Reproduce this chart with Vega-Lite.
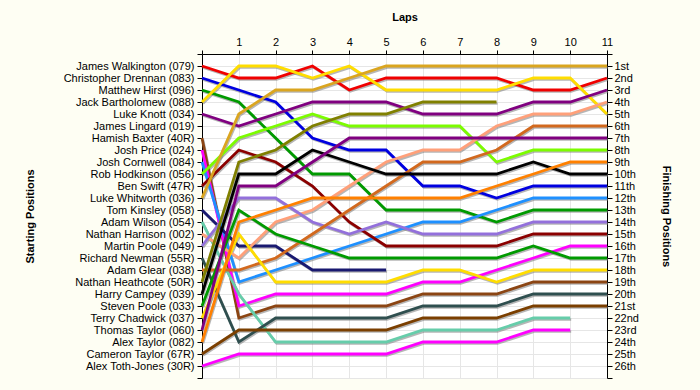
{
"$schema": "https://vega.github.io/schema/vega-lite/v6.json",
"width": 405, "height": 324,
"autosize": {"type": "none"},
"padding": {"left": 202, "top": 54, "right": 93, "bottom": 12},
"background": "#FEFEF3",
"config": {"view": {"fill": "#FFFFFF", "stroke": null}, "font": "Liberation Sans",
  "axis": {"labelFont": "Liberation Sans", "titleFont": "Liberation Sans", "labelFontSize": 11, "titleFontSize": 11, "titleFontWeight": "bold", "labelColor": "#000000", "titleColor": "#000000", "domainColor": "#000000", "tickColor": "#000000", "gridColor": "#E6E6E6"}},
"data": {"values": [
{"d":"079","l":0,"p":1},{"d":"079","l":1,"p":2},{"d":"079","l":2,"p":2},{"d":"079","l":3,"p":1},{"d":"079","l":4,"p":3},{"d":"079","l":5,"p":2},{"d":"079","l":6,"p":2},{"d":"079","l":7,"p":2},{"d":"079","l":8,"p":2},{"d":"079","l":9,"p":3},{"d":"079","l":10,"p":3},{"d":"079","l":11,"p":2},
{"d":"083","l":0,"p":2},{"d":"083","l":1,"p":3},{"d":"083","l":2,"p":4},{"d":"083","l":3,"p":7},{"d":"083","l":4,"p":8},{"d":"083","l":5,"p":8},{"d":"083","l":6,"p":11},{"d":"083","l":7,"p":11},{"d":"083","l":8,"p":12},{"d":"083","l":9,"p":11},{"d":"083","l":10,"p":11},{"d":"083","l":11,"p":11},
{"d":"096","l":0,"p":3},{"d":"096","l":1,"p":4},{"d":"096","l":2,"p":7},{"d":"096","l":3,"p":10},{"d":"096","l":4,"p":10},{"d":"096","l":5,"p":13},{"d":"096","l":6,"p":13},{"d":"096","l":7,"p":13},{"d":"096","l":8,"p":14},{"d":"096","l":9,"p":13},{"d":"096","l":10,"p":13},{"d":"096","l":11,"p":13},
{"d":"088","l":0,"p":4},{"d":"088","l":1,"p":1},{"d":"088","l":2,"p":1},{"d":"088","l":3,"p":2},{"d":"088","l":4,"p":1},{"d":"088","l":5,"p":3},{"d":"088","l":6,"p":3},{"d":"088","l":7,"p":3},{"d":"088","l":8,"p":3},{"d":"088","l":9,"p":2},{"d":"088","l":10,"p":2},{"d":"088","l":11,"p":5},
{"d":"034","l":0,"p":5},{"d":"034","l":1,"p":6},{"d":"034","l":2,"p":5},{"d":"034","l":3,"p":4},{"d":"034","l":4,"p":4},{"d":"034","l":5,"p":4},{"d":"034","l":6,"p":5},{"d":"034","l":7,"p":5},{"d":"034","l":8,"p":5},{"d":"034","l":9,"p":4},{"d":"034","l":10,"p":4},{"d":"034","l":11,"p":3},
{"d":"40R","l":0,"p":7},{"d":"40R","l":1,"p":22},{"d":"40R","l":2,"p":21},{"d":"40R","l":3,"p":21},{"d":"40R","l":4,"p":21},{"d":"40R","l":5,"p":21},{"d":"40R","l":6,"p":20},{"d":"40R","l":7,"p":20},{"d":"40R","l":8,"p":20},{"d":"40R","l":9,"p":19},{"d":"40R","l":10,"p":19},{"d":"40R","l":11,"p":19},
{"d":"024","l":0,"p":8},{"d":"024","l":1,"p":21},{"d":"024","l":2,"p":20},{"d":"024","l":3,"p":20},{"d":"024","l":4,"p":20},{"d":"024","l":5,"p":20},{"d":"024","l":6,"p":19},{"d":"024","l":7,"p":19},{"d":"024","l":8,"p":18},{"d":"024","l":9,"p":17},{"d":"024","l":10,"p":16},{"d":"024","l":11,"p":16},
{"d":"084","l":0,"p":9},{"d":"084","l":1,"p":19},{"d":"084","l":2,"p":18},{"d":"084","l":3,"p":17},{"d":"084","l":4,"p":16},{"d":"084","l":5,"p":15},{"d":"084","l":6,"p":14},{"d":"084","l":7,"p":14},{"d":"084","l":8,"p":13},{"d":"084","l":9,"p":12},{"d":"084","l":10,"p":12},{"d":"084","l":11,"p":12},
{"d":"056","l":0,"p":10},{"d":"056","l":1,"p":7},{"d":"056","l":2,"p":6},{"d":"056","l":3,"p":5},{"d":"056","l":4,"p":6},{"d":"056","l":5,"p":6},{"d":"056","l":6,"p":6},{"d":"056","l":7,"p":6},{"d":"056","l":8,"p":9},{"d":"056","l":9,"p":8},{"d":"056","l":10,"p":8},{"d":"056","l":11,"p":8},
{"d":"47R","l":0,"p":11},{"d":"47R","l":1,"p":8},{"d":"47R","l":2,"p":9},{"d":"47R","l":3,"p":11},{"d":"47R","l":4,"p":14},{"d":"47R","l":5,"p":16},{"d":"47R","l":6,"p":16},{"d":"47R","l":7,"p":16},{"d":"47R","l":8,"p":16},{"d":"47R","l":9,"p":15},{"d":"47R","l":10,"p":15},{"d":"47R","l":11,"p":15},
{"d":"036","l":0,"p":12},{"d":"036","l":1,"p":5},{"d":"036","l":2,"p":3},{"d":"036","l":3,"p":3},{"d":"036","l":4,"p":2},{"d":"036","l":5,"p":1},{"d":"036","l":6,"p":1},{"d":"036","l":7,"p":1},{"d":"036","l":8,"p":1},{"d":"036","l":9,"p":1},{"d":"036","l":10,"p":1},{"d":"036","l":11,"p":1},
{"d":"058","l":0,"p":13},{"d":"058","l":1,"p":16},{"d":"058","l":2,"p":16},{"d":"058","l":3,"p":18},{"d":"058","l":4,"p":18},{"d":"058","l":5,"p":18},
{"d":"054","l":0,"p":14},{"d":"054","l":1,"p":20},{"d":"054","l":2,"p":24},{"d":"054","l":3,"p":24},{"d":"054","l":4,"p":24},{"d":"054","l":5,"p":24},{"d":"054","l":6,"p":23},{"d":"054","l":7,"p":23},{"d":"054","l":8,"p":23},{"d":"054","l":9,"p":22},{"d":"054","l":10,"p":22},
{"d":"002","l":0,"p":15},{"d":"002","l":1,"p":17},{"d":"002","l":2,"p":14},{"d":"002","l":3,"p":13},{"d":"002","l":4,"p":11},{"d":"002","l":5,"p":9},{"d":"002","l":6,"p":8},{"d":"002","l":7,"p":8},{"d":"002","l":8,"p":6},{"d":"002","l":9,"p":5},{"d":"002","l":10,"p":5},{"d":"002","l":11,"p":4},
{"d":"049","l":0,"p":16},{"d":"049","l":1,"p":12},{"d":"049","l":2,"p":12},{"d":"049","l":3,"p":14},{"d":"049","l":4,"p":15},{"d":"049","l":5,"p":14},{"d":"049","l":6,"p":15},{"d":"049","l":7,"p":15},{"d":"049","l":8,"p":15},{"d":"049","l":9,"p":14},{"d":"049","l":10,"p":14},{"d":"049","l":11,"p":14},
{"d":"55R","l":0,"p":17},{"d":"55R","l":1,"p":24},{"d":"55R","l":2,"p":22},{"d":"55R","l":3,"p":22},{"d":"55R","l":4,"p":22},{"d":"55R","l":5,"p":22},{"d":"55R","l":6,"p":21},{"d":"55R","l":7,"p":21},{"d":"55R","l":8,"p":21},{"d":"55R","l":9,"p":20},{"d":"55R","l":10,"p":20},{"d":"55R","l":11,"p":20},
{"d":"038","l":0,"p":18},{"d":"038","l":1,"p":18},{"d":"038","l":2,"p":17},{"d":"038","l":3,"p":15},{"d":"038","l":4,"p":13},{"d":"038","l":5,"p":11},{"d":"038","l":6,"p":9},{"d":"038","l":7,"p":9},{"d":"038","l":8,"p":8},{"d":"038","l":9,"p":6},{"d":"038","l":10,"p":6},{"d":"038","l":11,"p":6},
{"d":"50R","l":0,"p":19},{"d":"50R","l":1,"p":9},{"d":"50R","l":2,"p":8},{"d":"50R","l":3,"p":6},{"d":"50R","l":4,"p":5},{"d":"50R","l":5,"p":5},{"d":"50R","l":6,"p":4},{"d":"50R","l":7,"p":4},{"d":"50R","l":8,"p":4},
{"d":"039","l":0,"p":20},{"d":"039","l":1,"p":10},{"d":"039","l":2,"p":10},{"d":"039","l":3,"p":8},{"d":"039","l":4,"p":9},{"d":"039","l":5,"p":10},{"d":"039","l":6,"p":10},{"d":"039","l":7,"p":10},{"d":"039","l":8,"p":10},{"d":"039","l":9,"p":9},{"d":"039","l":10,"p":10},{"d":"039","l":11,"p":10},
{"d":"033","l":0,"p":21},{"d":"033","l":1,"p":13},{"d":"033","l":2,"p":15},{"d":"033","l":3,"p":16},{"d":"033","l":4,"p":17},{"d":"033","l":5,"p":17},{"d":"033","l":6,"p":17},{"d":"033","l":7,"p":17},{"d":"033","l":8,"p":17},{"d":"033","l":9,"p":16},{"d":"033","l":10,"p":17},{"d":"033","l":11,"p":17},
{"d":"037","l":0,"p":22},{"d":"037","l":1,"p":15},{"d":"037","l":2,"p":19},{"d":"037","l":3,"p":19},{"d":"037","l":4,"p":19},{"d":"037","l":5,"p":19},{"d":"037","l":6,"p":18},{"d":"037","l":7,"p":18},{"d":"037","l":8,"p":19},{"d":"037","l":9,"p":18},{"d":"037","l":10,"p":18},{"d":"037","l":11,"p":18},
{"d":"060","l":0,"p":23},{"d":"060","l":1,"p":11},{"d":"060","l":2,"p":11},{"d":"060","l":3,"p":9},{"d":"060","l":4,"p":7},{"d":"060","l":5,"p":7},{"d":"060","l":6,"p":7},{"d":"060","l":7,"p":7},{"d":"060","l":8,"p":7},{"d":"060","l":9,"p":7},{"d":"060","l":10,"p":7},{"d":"060","l":11,"p":7},
{"d":"082","l":0,"p":24},{"d":"082","l":1,"p":14},{"d":"082","l":2,"p":13},{"d":"082","l":3,"p":12},{"d":"082","l":4,"p":12},{"d":"082","l":5,"p":12},{"d":"082","l":6,"p":12},{"d":"082","l":7,"p":12},{"d":"082","l":8,"p":11},{"d":"082","l":9,"p":10},{"d":"082","l":10,"p":9},{"d":"082","l":11,"p":9},
{"d":"67R","l":0,"p":25},{"d":"67R","l":1,"p":23},{"d":"67R","l":2,"p":23},{"d":"67R","l":3,"p":23},{"d":"67R","l":4,"p":23},{"d":"67R","l":5,"p":23},{"d":"67R","l":6,"p":22},{"d":"67R","l":7,"p":22},{"d":"67R","l":8,"p":22},{"d":"67R","l":9,"p":21},{"d":"67R","l":10,"p":21},{"d":"67R","l":11,"p":21},
{"d":"30R","l":0,"p":26},{"d":"30R","l":1,"p":25},{"d":"30R","l":2,"p":25},{"d":"30R","l":3,"p":25},{"d":"30R","l":4,"p":25},{"d":"30R","l":5,"p":25},{"d":"30R","l":6,"p":24},{"d":"30R","l":7,"p":24},{"d":"30R","l":8,"p":24},{"d":"30R","l":9,"p":23},{"d":"30R","l":10,"p":23}
]},
"encoding": {
  "x": {"field": "l", "type": "quantitative", "scale": {"domain": [0, 11], "nice": false, "zero": false},
    "axis": {"orient": "top", "title": "Laps", "values": [0,1,2,3,4,5,6,7,8,9,10,11], "labelExpr": "datum.value == 0 ? '' : datum.label", "grid": true, "tickSize": 4, "labelPadding": 3, "titlePadding": 14, "labelFlush": false}}
},
"layer": [
  {"mark": {"type": "line", "stroke": "#7A7A7A", "strokeWidth": 2.5, "opacity": 0.55, "xOffset": 1, "yOffset": 1.5},
   "encoding": {
     "y": {"field": "p", "type": "quantitative", "scale": {"domain": [0, 27], "reverse": true, "nice": false, "zero": false},
       "axis": {"orient": "left", "title": "Starting Positions", "values": [0,1,2,3,4,5,6,7,8,9,10,11,12,13,14,15,16,17,18,19,20,21,22,23,24,25,26,27],
         "labelExpr": "['', 'James Walkington (079)', 'Christopher Drennan (083)', 'Matthew Hirst (096)', 'Jack Bartholomew (088)', 'Luke Knott (034)', 'James Lingard (019)', 'Hamish Baxter (40R)', 'Josh Price (024)', 'Josh Cornwell (084)', 'Rob Hodkinson (056)', 'Ben Swift (47R)', 'Luke Whitworth (036)', 'Tom Kinsley (058)', 'Adam Wilson (054)', 'Nathan Harrison (002)', 'Martin Poole (049)', 'Richard Newman (55R)', 'Adam Glear (038)', 'Nathan Heathcote (50R)', 'Harry Campey (039)', 'Steven Poole (033)', 'Terry Chadwick (037)', 'Thomas Taylor (060)', 'Alex Taylor (082)', 'Cameron Taylor (67R)', 'Alex Toth-Jones (30R)', ''][datum.value]",
         "grid": true, "tickSize": 5, "labelPadding": 3, "labelFlush": false, "labelOverlap": false, "titleX": -172, "titleBaseline": "middle"}},
     "detail": {"field": "d"}}},
  {"mark": {"type": "line", "strokeWidth": 2.8},
   "encoding": {
     "y": {"field": "p", "type": "quantitative", "scale": {"domain": [0, 27], "reverse": true, "nice": false, "zero": false}, "axis": null},
     "color": {"field": "d", "type": "nominal", "legend": null,
       "scale": {"domain": ["079","083","096","088","034","40R","024","084","056","47R","036","058","054","002","049","55R","038","50R","039","033","037","060","082","67R","30R"],
                 "range": ["#F00000","#0000E0","#009A00","#FFDD00","#800080","#8B4513","#FF00FF","#1E90FF","#7CFC00","#8B0000","#DAA520","#191970","#66CDAA","#FFA07A","#9370DB","#2F4F4F","#D2691E","#808000","#000000","#009A00","#FFDD00","#800080","#FF8000","#7B3F00","#FF00FF"]}}}},
  {"mark": {"type": "line", "opacity": 0},
   "encoding": {
     "y": {"field": "p", "type": "quantitative", "scale": {"domain": [0, 27], "reverse": true, "nice": false, "zero": false},
       "axis": {"orient": "right", "title": "Finishing Positions", "values": [0,1,2,3,4,5,6,7,8,9,10,11,12,13,14,15,16,17,18,19,20,21,22,23,24,25,26,27],
         "labelExpr": "(datum.value == 0 || datum.value == 27) ? '' : datum.value + ((datum.value % 10 == 1 && datum.value != 11) ? 'st' : (datum.value % 10 == 2 && datum.value != 12) ? 'nd' : (datum.value % 10 == 3 && datum.value != 13) ? 'rd' : 'th')",
         "grid": false, "tickSize": 5, "labelPadding": 2, "labelFlush": false, "labelOverlap": false, "titleAngle": 90, "titleX": 58, "titleBaseline": "middle"}},
     "detail": {"field": "d"}}}
],
"resolve": {"scale": {"y": "independent"}, "axis": {"y": "independent"}}
}
